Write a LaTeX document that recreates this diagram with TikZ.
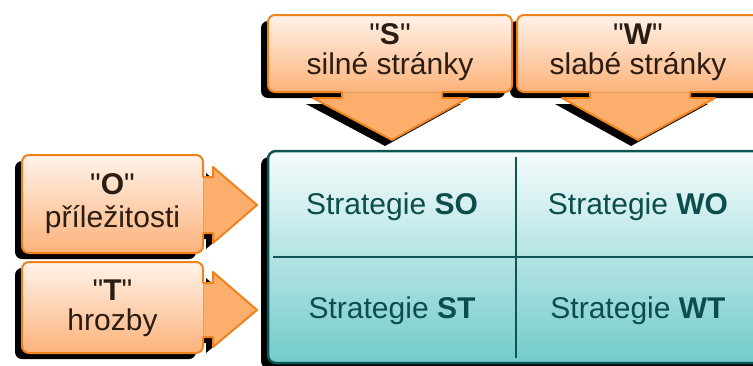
\documentclass[tikz,border=0pt]{standalone}
\usepackage{fontspec}
\setmainfont{Liberation Sans}[Ligatures=TeXOff]
\definecolor{orTop}{HTML}{FFF3EA}
\definecolor{orBot}{HTML}{FCB27A}
\definecolor{orArrow}{HTML}{FCAE6C}
\definecolor{orLine}{HTML}{F0821E}
\definecolor{orText}{HTML}{2B1D14}
\definecolor{tlTop}{HTML}{F6FCFC}
\definecolor{tlBot}{HTML}{72CBCB}
\definecolor{tlLine}{HTML}{0F5555}
\definecolor{tlText}{HTML}{0C4D4D}
\begin{document}
\begin{tikzpicture}[x=1pt,y=-1pt,
  shadowfill/.style={fill=black},
  boxfill/.style={top color=orTop,bottom color=orBot,draw=none},
  arrowfill/.style={fill=orArrow,draw=none},
  oline/.style={draw=orLine,line width=2pt,line join=round},
  lbl/.style={align=center,text=orText,inner sep=0pt},
  cell/.style={text=tlText,inner sep=0pt,anchor=base,font=\fontsize{30}{31}\selectfont}]
\useasboundingbox (0,0) rectangle (753,365);
\begin{scope}
\clip (0,0) rectangle (753,365);
% ---------- shadows ----------
\begin{scope}[shift={(-7,6)}]
  \fill[shadowfill,rounded corners=7] (268,15) rectangle (512,92);
  \fill[shadowfill] (342,90) -- (342,98) -- (313,98) -- (392,140) -- (468,98) -- (442,98) -- (442,90) -- cycle;
  \fill[shadowfill,rounded corners=7] (517,15) rectangle (770,92);
  \fill[shadowfill] (590,90) -- (590,98) -- (562,98) -- (638,140) -- (715,98) -- (690,98) -- (690,90) -- cycle;
  \fill[shadowfill,rounded corners=7] (22,155) rectangle (203,253);
  \fill[shadowfill] (201,177) -- (213,177) -- (213,167) -- (257,205) -- (213,243) -- (213,233) -- (201,233) -- cycle;
  \fill[shadowfill,rounded corners=7] (22,262) rectangle (203,353);
  \fill[shadowfill] (201,283) -- (213,283) -- (213,272) -- (257,310) -- (213,347) -- (213,337) -- (201,337) -- cycle;
  \fill[shadowfill,rounded corners=8] (268,151) rectangle (775,363);
\end{scope}
% ---------- S ----------
\fill[arrowfill] (342,90) -- (342,98) -- (313,98) -- (392,140) -- (468,98) -- (442,98) -- (442,90) -- cycle;
\fill[boxfill,rounded corners=7] (268,15) rectangle (512,92);
\draw[oline,rounded corners=7] (342,92) -- (268,92) -- (268,15) -- (512,15) -- (512,92) -- (442,92);
\draw[oline] (342,92) -- (342,98) -- (313,98) -- (392,140) -- (468,98) -- (442,98) -- (442,92);
\node[lbl,font=\fontsize{30}{30}\selectfont] (nS) at (390,52) {"\textbf{S}"\\silné stránky};
% ---------- W ----------
\fill[arrowfill] (590,90) -- (590,98) -- (562,98) -- (638,140) -- (715,98) -- (690,98) -- (690,90) -- cycle;
\fill[boxfill,rounded corners=7] (517,15) rectangle (770,92);
\draw[oline,rounded corners=7] (590,92) -- (517,92) -- (517,15) -- (770,15) -- (770,92) -- (690,92);
\draw[oline] (590,92) -- (590,98) -- (562,98) -- (638,140) -- (715,98) -- (690,98) -- (690,92);
\node[lbl,font=\fontsize{30}{30}\selectfont] (nW) at (638,52) {"\textbf{W}"\\slabé stránky};
% ---------- O ----------
\fill[arrowfill] (201,177) -- (213,177) -- (213,167) -- (257,205) -- (213,243) -- (213,233) -- (201,233) -- cycle;
\fill[boxfill,rounded corners=7] (22,155) rectangle (203,253);
\draw[oline,rounded corners=7] (203,177) -- (203,155) -- (22,155) -- (22,253) -- (203,253) -- (203,233);
\draw[oline] (203,177) -- (213,177) -- (213,167) -- (257,205) -- (213,243) -- (213,233) -- (203,233);
\node[lbl,font=\fontsize{30}{33}\selectfont] (nO) at (112.5,204) {"\textbf{O}"\\příležitosti};
% ---------- T ----------
\fill[arrowfill] (201,283) -- (213,283) -- (213,272) -- (257,310) -- (213,347) -- (213,337) -- (201,337) -- cycle;
\fill[boxfill,rounded corners=7] (22,262) rectangle (203,353);
\draw[oline,rounded corners=7] (203,283) -- (203,262) -- (22,262) -- (22,353) -- (203,353) -- (203,337);
\draw[oline] (203,283) -- (213,283) -- (213,272) -- (257,310) -- (213,347) -- (213,337) -- (203,337);
\node[lbl,font=\fontsize{30}{30}\selectfont] (nT) at (112.5,308) {"\textbf{T}"\\hrozby};
% ---------- grid ----------
\path[top color=tlTop,bottom color=tlBot,draw=tlLine,line width=2.5pt,rounded corners=8] (268,151) rectangle (775,363);
\draw[tlLine,line width=2pt] (516,157) -- (516,358);
\draw[tlLine,line width=2pt] (273,257) -- (775,257);
\node[cell] (SO) at (392,214) {Strategie \textbf{SO}};
\node[cell] (WO) at (638,214) {Strategie \textbf{WO}};
\node[cell] (ST) at (392,318) {Strategie \textbf{ST}};
\node[cell] (WT) at (638,318) {Strategie \textbf{WT}};
\end{scope}
\end{tikzpicture}
\end{document}
